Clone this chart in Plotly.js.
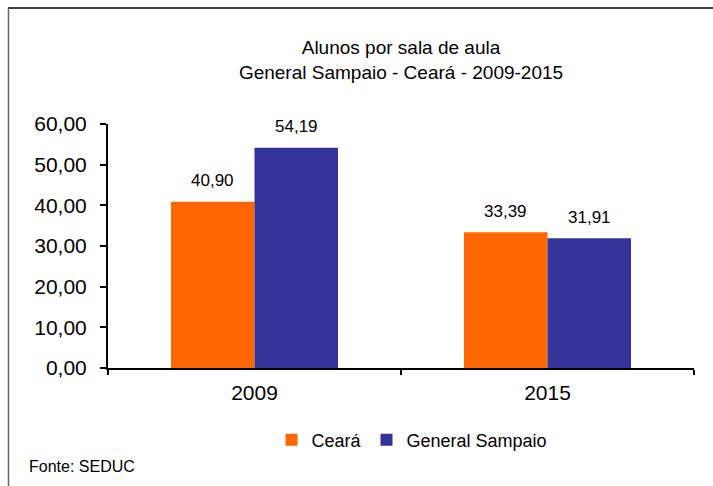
<!DOCTYPE html>
<html>
<head>
<meta charset="utf-8">
<script src="https://cdn.plot.ly/plotly-3.0.1.min.js"></script>
<style>html,body{margin:0;padding:0;background:#fff;}#chart{width:713px;height:486px;}</style>
</head>
<body>
<div id="chart"></div>
<script>
const categories = ['2009', '2015'];
const seriesNames = ['Ceará', 'General Sampaio'];
const cearaValues = [40.90, 33.39];
const generalSampaioValues = [54.19, 31.91];
const yTickValues = [0, 10, 20, 30, 40, 50, 60];

const font = 'Arial, "Liberation Sans", sans-serif';

const L = 108, R = 694, T = 124, B = 368;
const W = R - L, H = B - T;
const px = v => (v - L) / W;
const py = v => (B - v) / H;

const bargap = 0.43;
const barHalf = (W / categories.length) * (1 - bargap) / 4;

const traces = [
  {type: 'bar', name: seriesNames[0], x: categories, y: cearaValues,
   marker: {color: '#FF6600'}, hoverinfo: 'none'},
  {type: 'bar', name: seriesNames[1], x: categories, y: generalSampaioValues,
   marker: {color: '#333399'}, hoverinfo: 'none'}
];

const fmt = v => v.toFixed(2).replace('.', ',');
const labelAnnotations = [];
[cearaValues, generalSampaioValues].forEach((vals, si) => {
  vals.forEach((v, i) => {
    labelAnnotations.push({
      x: i, y: v, xref: 'x', yref: 'y',
      text: fmt(v), showarrow: false,
      xshift: si === 0 ? -barHalf : barHalf, yshift: 21,
      xanchor: 'center', yanchor: 'middle',
      font: {family: font, size: 17, color: '#000'}
    });
  });
});

const layout = {
  width: 713, height: 486,
  margin: {l: L, r: 713 - R, t: T, b: 486 - B, pad: 0},
  paper_bgcolor: '#fff', plot_bgcolor: '#fff',
  separators: ',.',
  font: {family: font, color: '#000'},
  barmode: 'group', bargap: bargap, bargroupgap: 0,
  title: {
    text: 'Alunos por sala de aula<br>General Sampaio - Ceará - 2009-2015',
    font: {family: font, size: 19, color: '#000'},
    x: 0.5, xref: 'paper', xanchor: 'center',
    y: 1 - 54 / 486, yref: 'container', yanchor: 'middle'
  },
  xaxis: {
    type: 'category', range: [-0.5, 1.5], showline: true, linecolor: '#000', linewidth: 2,
    ticks: 'outside', tickson: 'boundaries', ticklen: 5, tickwidth: 2, tickcolor: '#000',
    tickfont: {family: font, size: 21, color: '#000'}, ticklabelstandoff: 5, tickangle: 0,
    showgrid: false, zeroline: false, fixedrange: true
  },
  yaxis: {
    range: [0, 60], tickvals: yTickValues, tickformat: '.2f',
    showline: true, linecolor: '#000', linewidth: 2,
    ticks: 'outside', ticklen: 6, tickwidth: 2, tickcolor: '#000',
    tickfont: {family: font, size: 21, color: '#000'}, ticklabelstandoff: 9,
    showgrid: false, zeroline: false, fixedrange: true
  },
  showlegend: true,
  legend: {
    orientation: 'h', x: px(412), xanchor: 'center', y: py(440), yanchor: 'middle',
    font: {family: font, size: 18, color: '#000'},
    itemwidth: 30, bgcolor: 'rgba(0,0,0,0)', traceorder: 'normal'
  },
  annotations: labelAnnotations.concat([{
    text: 'Fonte: SEDUC', xref: 'paper', yref: 'paper',
    x: px(27), y: py(466), xanchor: 'left', yanchor: 'middle',
    showarrow: false, font: {family: font, size: 16, color: '#000'}
  }]),
  shapes: [
    {type: 'line', xref: 'paper', yref: 'paper', x0: px(8), x1: px(713), y0: py(8), y1: py(8),
     line: {color: '#000', width: 1.5}},
    {type: 'line', xref: 'paper', yref: 'paper', x0: px(8.5), x1: px(8.5), y0: py(8), y1: py(486),
     line: {color: '#666', width: 1.5}}
  ]
};

Plotly.newPlot('chart', traces, layout, {displayModeBar: false, staticPlot: true});
</script>
</body>
</html>
